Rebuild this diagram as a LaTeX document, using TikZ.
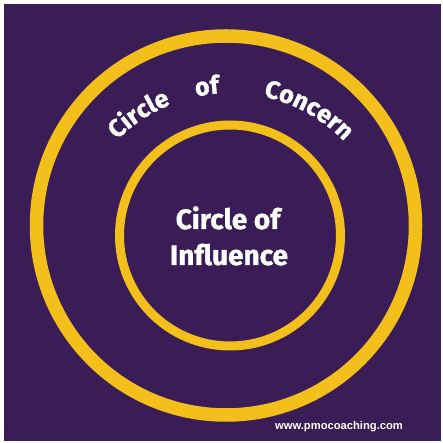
\documentclass[tikz,border=0pt]{standalone}
\usepackage{fontspec}
\setmainfont{Fira Sans}
\newfontfamily\webfont{Liberation Sans}
\newfontfamily\heavyfont{Fira Sans}[FakeBold=1.2]
\usetikzlibrary{decorations.text}
\definecolor{bgpurple}{RGB}{58,29,86}
\definecolor{ringgold}{RGB}{243,191,27}
\tikzset{
  ring/.style={draw=ringgold},
  arcword/.style={decorate, decoration={text along path, text align=center,
      text color=white}},
  centretext/.style={text=white, font=\heavyfont\bfseries\fontsize{28}{32}\selectfont, anchor=base},
}
\begin{document}
\begin{tikzpicture}[x=1pt,y=1pt]
  % page and background panel
  \fill[white] (0,0) rectangle (443,443);
  \useasboundingbox (0,0) rectangle (443,443);
  \fill[bgpurple] (4,2) rectangle (441,439);
  % the two rings
  \coordinate (outerc) at (226,217.5);
  \coordinate (innerc) at (230,207.5);
  \coordinate (arcc) at (230,191);
  \draw[ring, line width=13.5] (outerc) circle[radius=189.5];
  \draw[ring, line width=9] (innerc) circle[radius=110.5];
  % curved heading, one word per arc
  \path[arcword, decoration={text={|\heavyfont\bfseries\fontsize{25}{29}\selectfont|Circle}}]
    (arcc) ++(142:159) arc[start angle=142, end angle=105, radius=159];
  \path[arcword, decoration={text={|\heavyfont\bfseries\fontsize{25}{29}\selectfont|of}}]
    (arcc) ++(108:159) arc[start angle=108, end angle=88, radius=159];
  \path[arcword, decoration={text={|\heavyfont\bfseries\fontsize{25}{29}\selectfont|Concern}}]
    (arcc) ++(82:159) arc[start angle=82, end angle=40, radius=159];
  % inner label
  \node[centretext] (inf1) at (228,214) {Circle of};
  \node[centretext] (inf2) at (229,178) {Influence};
  % footer address
  \node[text=white, font=\webfont\bfseries\fontsize{11.2}{13}\selectfont, anchor=base]
    (web) at (339,13) {www.pmocoaching.com};
\end{tikzpicture}
\end{document}
